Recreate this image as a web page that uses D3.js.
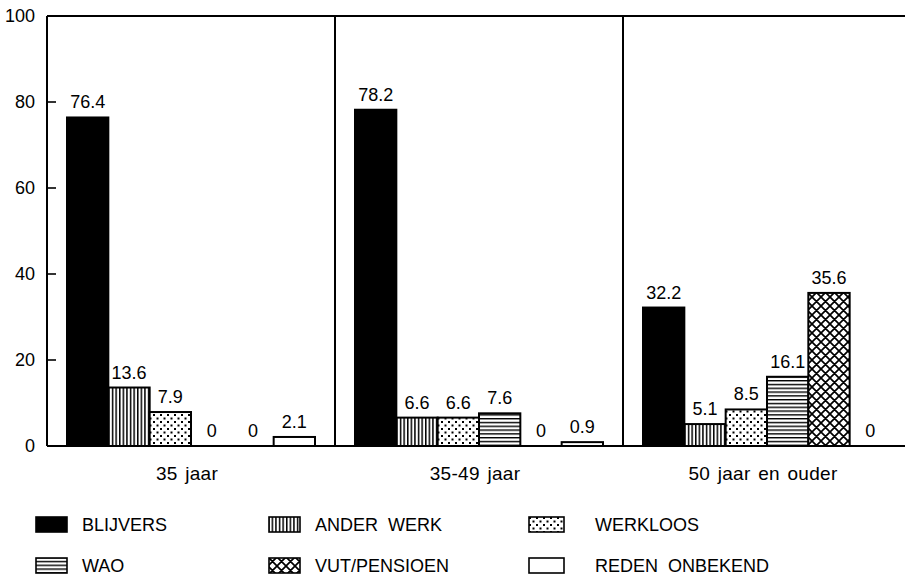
<!DOCTYPE html>
<html>
<head>
<meta charset="utf-8">
<script src="https://cdn.jsdelivr.net/npm/d3@7"></script>
<style>
  html, body { margin: 0; padding: 0; background: #fff; }
  svg text { font-family: "Liberation Sans", Arial, Helvetica, sans-serif; fill: #000; }
</style>
</head>
<body>
<svg id="chart" width="905" height="581"></svg>
<script>
// Age groups and reasons (series), in drawing order
const groups = ["35 jaar", "35-49 jaar", "50 jaar en ouder"];
const series = ["BLIJVERS", "ANDER WERK", "WERKLOOS", "WAO", "VUT/PENSIOEN", "REDEN ONBEKEND"];

// Percentages per age group, one array per series
const blijvers      = [76.4, 78.2, 32.2];
const anderWerk     = [13.6, 6.6, 5.1];
const werkloos      = [7.9, 6.6, 8.5];
const wao           = [0, 7.6, 16.1];
const vutPensioen   = [0, 0, 35.6];
const redenOnbekend = [2.1, 0.9, 0];

const yTicks = [0, 20, 40, 60, 80, 100];

// Legend layout order (two rows of three)
const legendOrder = ["BLIJVERS", "ANDER WERK", "WERKLOOS", "WAO", "VUT/PENSIOEN", "REDEN ONBEKEND"];

const values = [blijvers, anderWerk, werkloos, wao, vutPensioen, redenOnbekend];
const table = groups.map((g, gi) => ({
  group: g,
  bars: series.map((s, si) => ({ series: s, value: values[si][gi] }))
}));

const svg = d3.select("#chart");

// Fill patterns
const defs = svg.append("defs");

const pVert = defs.append("pattern").attr("id", "p-vert")
  .attr("patternUnits", "userSpaceOnUse").attr("width", 3.6).attr("height", 4);
pVert.append("rect").attr("width", 3.6).attr("height", 4).attr("fill", "#fff");
pVert.append("rect").attr("x", 0).attr("width", 1.5).attr("height", 4).attr("fill", "#000");

const pHorz = defs.append("pattern").attr("id", "p-horz")
  .attr("patternUnits", "userSpaceOnUse").attr("width", 4).attr("height", 3.8);
pHorz.append("rect").attr("width", 4).attr("height", 3.8).attr("fill", "#fff");
pHorz.append("rect").attr("y", 0).attr("width", 4).attr("height", 1.4).attr("fill", "#000");

const pDots = defs.append("pattern").attr("id", "p-dots")
  .attr("patternUnits", "userSpaceOnUse").attr("width", 7).attr("height", 7);
pDots.append("rect").attr("width", 7).attr("height", 7).attr("fill", "#fff");
pDots.append("rect").attr("x", 1).attr("y", 1).attr("width", 2).attr("height", 2).attr("fill", "#000");
pDots.append("rect").attr("x", 4.5).attr("y", 4.5).attr("width", 2).attr("height", 2).attr("fill", "#000");

const pCross = defs.append("pattern").attr("id", "p-cross")
  .attr("patternUnits", "userSpaceOnUse").attr("width", 9).attr("height", 9);
pCross.append("rect").attr("width", 9).attr("height", 9).attr("fill", "#fff");
pCross.append("path").attr("d", "M0,0L9,9M9,0L0,9M-1,8L1,10M8,-1L10,1M-1,1L1,-1M8,10L10,8")
  .attr("stroke", "#000").attr("stroke-width", 1.7);

const fills = {
  "BLIJVERS": "#000",
  "ANDER WERK": "url(#p-vert)",
  "WERKLOOS": "url(#p-dots)",
  "WAO": "url(#p-horz)",
  "VUT/PENSIOEN": "url(#p-cross)",
  "REDEN ONBEKEND": "#fff"
};

// Scales
const x0 = d3.scaleBand().domain(groups).range([47, 911]).paddingInner(0).paddingOuter(0);
const x1 = d3.scaleBand().domain(series).range([20, x0.bandwidth() - 20]).padding(0);
const y = d3.scaleLinear().domain([0, 100]).range([446, 16]);

// Y axis labels and inward ticks
const yAxis = d3.axisLeft(y).tickValues(yTicks).tickSize(0).tickPadding(12);
const ya = svg.append("g").attr("transform", "translate(47,0)").call(yAxis);
ya.select(".domain").remove();
ya.selectAll("text").attr("font-size", 18).attr("font-family", "Liberation Sans, Arial, sans-serif");
svg.append("g").selectAll("line").data(yTicks.filter(t => t > 0 && t < 100)).join("line")
  .attr("x1", 47).attr("x2", 56).attr("y1", d => y(d)).attr("y2", d => y(d))
  .attr("stroke", "#000").attr("stroke-width", 1.6);

// Bars
const g = svg.append("g").selectAll("g").data(table).join("g")
  .attr("transform", d => `translate(${x0(d.group)},0)`);

g.selectAll("rect").data(d => d.bars.filter(b => b.value > 0)).join("rect")
  .attr("x", d => x1(d.series))
  .attr("y", d => y(d.value))
  .attr("width", x1.bandwidth())
  .attr("height", d => y(0) - y(d.value))
  .attr("fill", d => fills[d.series])
  .attr("stroke", "#000")
  .attr("stroke-width", 2);

g.selectAll("text.val").data(d => d.bars).join("text")
  .attr("class", "val")
  .attr("x", d => x1(d.series) + x1.bandwidth() / 2)
  .attr("y", d => y(d.value) - 9)
  .attr("text-anchor", "middle")
  .attr("font-size", 18)
  .text(d => d.value);

// Frame: top line, baseline, group dividers
const frame = svg.append("g").attr("stroke", "#000").attr("stroke-width", 2).attr("fill", "none");
frame.append("line").attr("x1", 47).attr("x2", 911).attr("y1", y(100)).attr("y2", y(100));
frame.append("line").attr("x1", 47).attr("x2", 911).attr("y1", y(0)).attr("y2", y(0));
frame.selectAll("line.div").data(groups).join("line").attr("class", "div")
  .attr("x1", d => x0(d)).attr("x2", d => x0(d))
  .attr("y1", y(100)).attr("y2", y(0));

// Category labels
svg.append("g").selectAll("text").data(groups).join("text")
  .attr("x", d => x0(d) + x0.bandwidth() / 2 - 4)
  .attr("y", 480)
  .attr("text-anchor", "middle")
  .attr("font-size", 19)
  .attr("letter-spacing", 0.3)
  .attr("word-spacing", 2)
  .text(d => d);

// Legend
const legX = [35, 268, 528];
const legY = [516, 557];
const leg = svg.append("g").selectAll("g").data(legendOrder).join("g")
  .attr("transform", (d, i) => `translate(${legX[i % 3]},${legY[Math.floor(i / 3)]})`);
leg.append("rect")
  .attr("x", 1).attr("y", 1)
  .attr("width", d => d === "REDEN ONBEKEND" || d === "WERKLOOS" ? 35 : 31)
  .attr("height", 15)
  .attr("fill", d => fills[d])
  .attr("stroke", "#000").attr("stroke-width", 1.6);
leg.append("text")
  .attr("x", d => d === "REDEN ONBEKEND" || d === "WERKLOOS" ? 67 : 47)
  .attr("y", 15)
  .attr("font-size", 18)
  .attr("word-spacing", 5)
  .text(d => d);
</script>
</body>
</html>
